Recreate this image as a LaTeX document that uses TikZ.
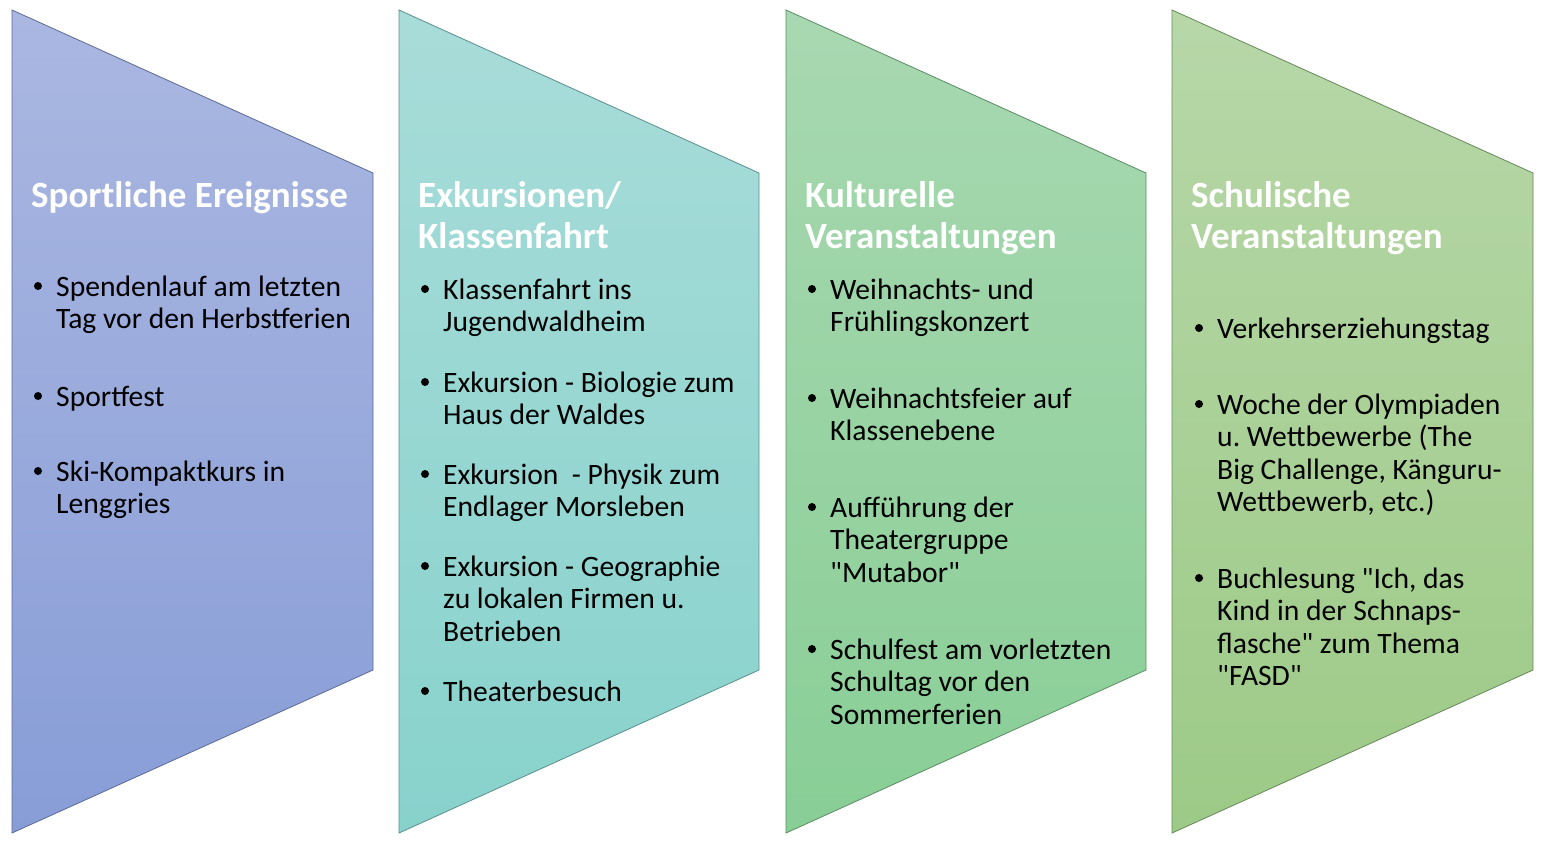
\documentclass[tikz,border=0pt]{standalone}
\usepackage{fontspec}
\setmainfont{Carlito}[Ligatures=TeXOff]
\frenchspacing
\definecolor{pAtop}{HTML}{AAB7E1}
\definecolor{pAbot}{HTML}{889DD7}
\definecolor{pAln}{HTML}{5C6A95}
\definecolor{pBtop}{HTML}{A8DCD9}
\definecolor{pBbot}{HTML}{88D2CC}
\definecolor{pBln}{HTML}{5A8F8B}
\definecolor{pCtop}{HTML}{A8D8B1}
\definecolor{pCbot}{HTML}{89CE96}
\definecolor{pCln}{HTML}{5B8C64}
\definecolor{pDtop}{HTML}{B7D7A8}
\definecolor{pDbot}{HTML}{9DCA87}
\definecolor{pDln}{HTML}{66885A}
\newcommand\panelitem[4]{% #1 name, #2 text x, #3 first baseline, #4 lines
  \node[dot] (#1-b) at (#2-18,#3-10) {};
  \foreach \t [count=\i from 0] in {#4}
    \node[itm] (#1-\i) at (#2,#3+32.6*\i) {\t};
}
\begin{document}
\begin{tikzpicture}[x=1pt,y=-1pt,
  panel/.style={line width=0.8pt},
  ttl/.style={font=\fontsize{37}{40.7}\selectfont\bfseries, text=white, anchor=base west, inner sep=0pt},
  itm/.style={font=\fontsize{29.6}{32.6}\selectfont, text=black, anchor=base west, inner sep=0pt},
  dot/.style={circle, fill=black, inner sep=0pt, minimum size=8pt}]
\useasboundingbox (0,0) rectangle (1549,844);
% panels
\path[panel, top color=pAtop, bottom color=pAbot, draw=pAln] (12,10) -- (373,173) -- (373,670) -- (12,833) -- cycle;
\path[panel, top color=pBtop, bottom color=pBbot, draw=pBln] (399,10) -- (759,173) -- (759,670) -- (399,833) -- cycle;
\path[panel, top color=pCtop, bottom color=pCbot, draw=pCln] (786,10) -- (1146,173) -- (1146,670) -- (786,833) -- cycle;
\path[panel, top color=pDtop, bottom color=pDbot, draw=pDln] (1172,10) -- (1533,173) -- (1533,670) -- (1172,833) -- cycle;
% panel 1
\node[ttl] (t1) at (31,207) {Sportliche Ereignisse};
\panelitem{a1}{56}{296}{Spendenlauf am letzten, Tag vor den Herbstferien}
\panelitem{a2}{56}{406}{Sportfest}
\panelitem{a3}{56}{481}{Ski-Kompaktkurs in, Lenggries}
% panel 2
\node[ttl] (t2a) at (418,207) {Exkursionen/};
\node[ttl] (t2b) at (418,248) {Klassenfahrt};
\panelitem{b1}{443}{299}{Klassenfahrt ins, Jugendwaldheim}
\panelitem{b2}{443}{392}{Exkursion - Biologie zum, Haus der Waldes}
\panelitem{b3}{443}{484}{Exkursion\ \ - Physik zum, Endlager Morsleben}
\panelitem{b4}{443}{576}{Exkursion - Geographie, zu lokalen Firmen u., Betrieben}
\panelitem{b5}{443}{701}{Theaterbesuch}
% panel 3
\node[ttl] (t3a) at (805,207) {Kulturelle};
\node[ttl] (t3b) at (805,248) {Veranstaltungen};
\panelitem{c1}{830}{299}{Weihnachts- und, Frühlingskonzert}
\panelitem{c2}{830}{408}{Weihnachtsfeier auf, Klassenebene}
\panelitem{c3}{830}{517}{Aufführung der, Theatergruppe, "Mutabor"}
\panelitem{c4}{830}{659}{Schulfest am vorletzten, Schultag vor den, Sommerferien}
% panel 4
\node[ttl] (t4a) at (1191,207) {Schulische};
\node[ttl] (t4b) at (1191,248) {Veranstaltungen};
\panelitem{d1}{1217}{338}{Verkehrserziehungstag}
\panelitem{d2}{1217}{414}{Woche der Olympiaden, u. Wettbewerbe (The, {Big Challenge, Känguru-}, {Wettbewerb, etc.)}}
\panelitem{d3}{1217}{588}{{Buchlesung "Ich, das}, Kind in der Schnaps-, flasche" zum Thema, "FASD"}
\end{tikzpicture}
\end{document}
